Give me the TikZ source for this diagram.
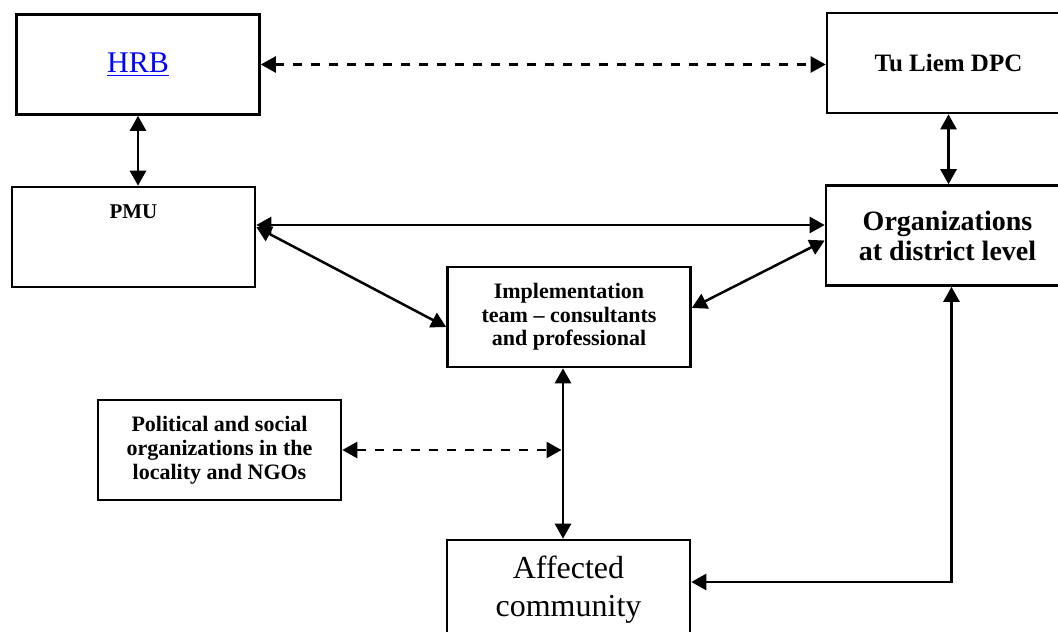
\documentclass[tikz,border=0pt]{standalone}
\usepackage{fontspec}
\setmainfont{Liberation Serif}
\usetikzlibrary{positioning}
\usetikzlibrary{arrows.meta}
\newcommand{\ulink}[1]{\setbox0\hbox{#1}\rlap{\rule[-4pt]{\wd0}{1.8pt}}\box0}

\begin{document}
\begin{tikzpicture}
[
x=1pt, y=-1pt,
box/.style={rectangle, draw, line width=2.6pt, minimum width=243pt, minimum height=100pt, align=center},
text-b/.style={font=\bfseries},
link/.style={line width=2.5pt, {Triangle[length=15pt,width=16pt]}-{Triangle[length=15pt,width=16pt]}},
dlink/.style={link, dash pattern=on 9pt off 9pt},
]
\useasboundingbox (0,0) rectangle (1058,632);
\node (hrb)   [box, font=\fontsize{30}{34}\selectfont] at (138,64.5) {\color{blue}\ulink{HRB}};
\node (tulie) [box, font=\bfseries\fontsize{25}{29}\selectfont] at (948.5,63) {Tu Liem DPC};
\node (pmu)   [box] at (133.5,237) {};
\node (pmut)  [text-b, font=\bfseries\fontsize{21}{24}\selectfont] at ([yshift=-26pt]pmu.north) {PMU};
\node (org)   [box, font=\bfseries\fontsize{28}{30}\selectfont] at (947.5,235.5) {Organizations\\at district level};
\node (impl)  [box, font=\bfseries\fontsize{22}{23.5}\selectfont] at (569,317) {Implementation\\team -- consultants\\and professional};
\node (pol)   [box, font=\bfseries\fontsize{22}{24}\selectfont] at (219.5,450) {Political and social\\organizations in the\\locality and NGOs};
\node (aff)   [box, font=\fontsize{32}{38}\selectfont] at (568.5,590) {Affected\\community};
\coordinate (cross) at ([xshift=-7.5pt]impl.south |- pol.east);
\draw [dlink] (hrb.east) -- (hrb.east -| tulie.west);
\draw [link] (hrb.south) -- (hrb.south |- pmu.north);
\draw [link] (tulie.south) -- (tulie.south |- org.north);
\draw [link] ([yshift=12pt]pmu.east) -- ([yshift=12pt]pmu.east -| org.west);
\draw [link] ([yshift=10pt]pmu.east) -- ([yshift=-10pt]impl.west);
\draw [link] ([yshift=9pt]impl.east) -- ([yshift=-5pt]org.west);
\draw [link] ([xshift=-6pt]impl.south) -- ([xshift=-6pt]impl.south |- aff.north);
\draw [dlink] (pol.east) -- (cross);
\draw [link] ([yshift=8pt]aff.east) -| ([xshift=4pt]org.south);
\end{tikzpicture}
\end{document}
